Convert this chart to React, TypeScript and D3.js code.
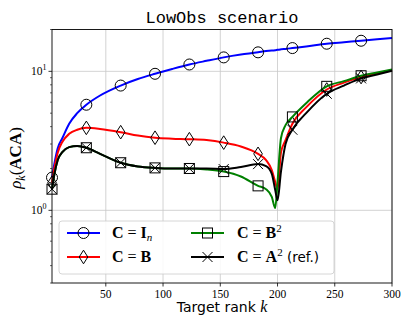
import React from "react";
import * as d3 from "d3";

const ranks = [3, 5, 8, 12, 18, 25, 33, 45, 63, 78, 93, 108, 123, 138, 153, 168, 183, 190, 195, 198, 200, 203, 207, 213, 225, 243, 258, 273, 287, 300];
const markerRanks = [3, 33, 63, 93, 123, 153, 183, 213, 243, 273];

const rhoIn = [1.72, 2.15, 2.8, 3.3, 4.2, 5.0, 5.75, 6.7, 7.9, 8.8, 9.6, 10.4, 11.2, 11.9, 12.6, 13.2, 13.7, 14.0, 14.1, 14.2, 14.3, 14.4, 14.5, 14.7, 15.1, 15.8, 16.2, 16.6, 17.0, 17.4];
const rhoB = [1.58, 2.0, 2.6, 3.1, 3.55, 3.8, 3.92, 3.85, 3.65, 3.45, 3.33, 3.28, 3.25, 3.2, 3.07, 2.88, 2.55, 2.3, 1.95, 1.6, 1.42, 2.6, 3.2, 4.2, 5.5, 7.4, 8.3, 9.1, 9.7, 10.2];
const rhoB2 = [1.42, 1.8, 2.3, 2.62, 2.85, 2.9, 2.82, 2.55, 2.2, 2.07, 2.02, 2.0, 2.0, 1.97, 1.9, 1.75, 1.5, 1.42, 1.25, 1.04, 1.6, 3.3, 4.1, 4.7, 5.9, 7.8, 8.5, 9.3, 9.8, 10.3];
const rhoA2 = [1.42, 1.8, 2.3, 2.62, 2.85, 2.9, 2.82, 2.55, 2.2, 2.07, 2.02, 2.0, 2.0, 2.0, 1.98, 2.05, 2.15, 2.08, 1.83, 1.4, 1.18, 1.9, 3.0, 3.8, 5.0, 6.9, 7.9, 8.9, 9.5, 10.1];

const xTicks = [50, 100, 150, 200, 250, 300];
const yMajor = [1, 10];

const W = 409;
const H = 327;
const M = { left: 52, right: 392, top: 29.5, bottom: 283 };

type Marker = "circle" | "diamond" | "square" | "x";

function MarkerShape({ kind, x, y }: { kind: Marker; x: number; y: number }) {
  const st = { fill: "none", stroke: "#000", strokeWidth: 1 };
  if (kind === "circle") return <circle cx={x} cy={y} r={5.5} {...st} />;
  if (kind === "diamond")
    return <path d={`M${x},${y - 6.8}L${x + 4.3},${y}L${x},${y + 6.8}L${x - 4.3},${y}Z`} {...st} />;
  if (kind === "square") return <rect x={x - 5} y={y - 5} width={10} height={10} {...st} />;
  return (
    <path d={`M${x - 5},${y - 5}L${x + 5},${y + 5}M${x - 5},${y + 5}L${x + 5},${y - 5}`} {...st} />
  );
}

const series: { vals: number[]; color: string; marker: Marker }[] = [
  { vals: rhoIn, color: "#0000ff", marker: "circle" },
  { vals: rhoB, color: "#ff0000", marker: "diamond" },
  { vals: rhoB2, color: "#008000", marker: "square" },
  { vals: rhoA2, color: "#000000", marker: "x" },
];

export default function App() {
  const x = d3.scaleLinear().domain([3, 300]).range([M.left, M.right]);
  const y = d3.scaleLog().domain([0.3, 20]).range([M.bottom, M.top]);
  const line = d3
    .line<number>()
    .x((_, i) => x(ranks[i]))
    .y((d) => y(d))
    .curve(d3.curveMonotoneX);

  const minor = y.ticks().filter((t) => !yMajor.includes(t));
  const serif = "'Liberation Serif', 'DejaVu Serif', serif";
  const sans = "'DejaVu Sans', sans-serif";

  const legend = [
    { marker: "circle" as Marker, color: "#0000ff", lx: 67, ly: 233 },
    { marker: "diamond" as Marker, color: "#ff0000", lx: 67, ly: 257 },
    { marker: "square" as Marker, color: "#008000", lx: 191, ly: 233 },
    { marker: "x" as Marker, color: "#000000", lx: 191, ly: 257 },
  ];

  return (
    <svg width={W} height={H} style={{ position: "absolute", left: 0, top: 0 }}>
      <rect width={W} height={H} fill="#fff" />
      {/* grid */}
      {xTicks.map((t) => (
        <line key={"gx" + t} x1={x(t)} x2={x(t)} y1={M.top} y2={M.bottom} stroke="#c8c8c8" strokeWidth={0.8} />
      ))}
      {yMajor.map((t) => (
        <line key={"gy" + t} x1={M.left} x2={M.right} y1={y(t)} y2={y(t)} stroke="#c8c8c8" strokeWidth={0.8} />
      ))}

      {/* curves */}
      {series.map((s, si) => (
        <g key={si}>
          <path d={line(s.vals) || ""} fill="none" stroke={s.color} strokeWidth={2} />
          {ranks.map((r, i) =>
            markerRanks.includes(r) ? <MarkerShape key={i} kind={s.marker} x={x(r)} y={y(s.vals[i])} /> : null
          )}
        </g>
      ))}

      {/* axes */}
      <rect x={M.left} y={M.top} width={M.right - M.left} height={M.bottom - M.top} fill="none" stroke="#000" strokeWidth={0.9} />
      {xTicks.map((t) => (
        <g key={"xt" + t}>
          <line x1={x(t)} x2={x(t)} y1={M.bottom} y2={M.bottom + 3.5} stroke="#000" strokeWidth={0.8} />
          <text x={x(t)} y={298} textAnchor="middle" fontFamily={serif} fontSize={11.5}>
            {t}
          </text>
        </g>
      ))}
      {yMajor.map((t) => (
        <g key={"yt" + t}>
          <line x1={M.left - 3.5} x2={M.left} y1={y(t)} y2={y(t)} stroke="#000" strokeWidth={0.8} />
          <text x={46.5} y={y(t) + 4} textAnchor="end" fontFamily={serif} fontSize={11.5}>
            10
            <tspan dy={-5} fontSize={8}>
              {Math.round(Math.log10(t))}
            </tspan>
          </text>
        </g>
      ))}
      {minor.map((t) => (
        <line key={"ym" + t} x1={M.left - 2} x2={M.left} y1={y(t)} y2={y(t)} stroke="#000" strokeWidth={0.6} />
      ))}

      {/* labels */}
      <text x={222} y={23} textAnchor="middle" fontFamily="'Liberation Mono', monospace" fontSize={17}>
        LowObs scenario
      </text>
      <text x={222} y={312} textAnchor="middle" fontFamily={sans} fontSize={14}>
        Target rank <tspan fontFamily={serif} fontStyle="italic" fontSize={16}>k</tspan>
      </text>
      <text transform="translate(21,158) rotate(-90)" textAnchor="middle" fontFamily={serif} fontSize={17}>
        <tspan fontStyle="italic">ρ</tspan>
        <tspan fontStyle="italic" fontSize={12} dy={4}>k</tspan>
        <tspan dy={-4}>(</tspan>
        <tspan fontWeight="bold">ACA</tspan>
        <tspan>)</tspan>
      </text>

      {/* legend */}
      <rect x={59} y={221} width={275} height={53} rx={3} fill="#fff" fillOpacity={0.85} stroke="#cccccc" strokeWidth={0.8} />
      {legend.map((l, i) => (
        <g key={"lg" + i}>
          <line x1={l.lx} x2={l.lx + 33} y1={l.ly} y2={l.ly} stroke={l.color} strokeWidth={2} />
          <MarkerShape kind={l.marker} x={l.lx + 16.5} y={l.ly} />
        </g>
      ))}
      <g fontFamily={serif} fontSize={16}>
        <text x={112} y={238}>
          <tspan fontWeight="bold">C</tspan> = <tspan fontWeight="bold">I</tspan>
          <tspan fontStyle="italic" fontSize={11} dy={3}>n</tspan>
        </text>
        <text x={112} y={262}>
          <tspan fontWeight="bold">C</tspan> = <tspan fontWeight="bold">B</tspan>
        </text>
        <text x={237} y={238}>
          <tspan fontWeight="bold">C</tspan> = <tspan fontWeight="bold">B</tspan>
          <tspan fontSize={11} dy={-6}>2</tspan>
        </text>
        <text x={237} y={262}>
          <tspan fontWeight="bold">C</tspan> = <tspan fontWeight="bold">A</tspan>
          <tspan fontSize={11} dy={-6}>2</tspan>
          <tspan dy={6} fontFamily={sans} fontSize={13.5}> (ref.)</tspan>
        </text>
      </g>
    </svg>
  );
}
